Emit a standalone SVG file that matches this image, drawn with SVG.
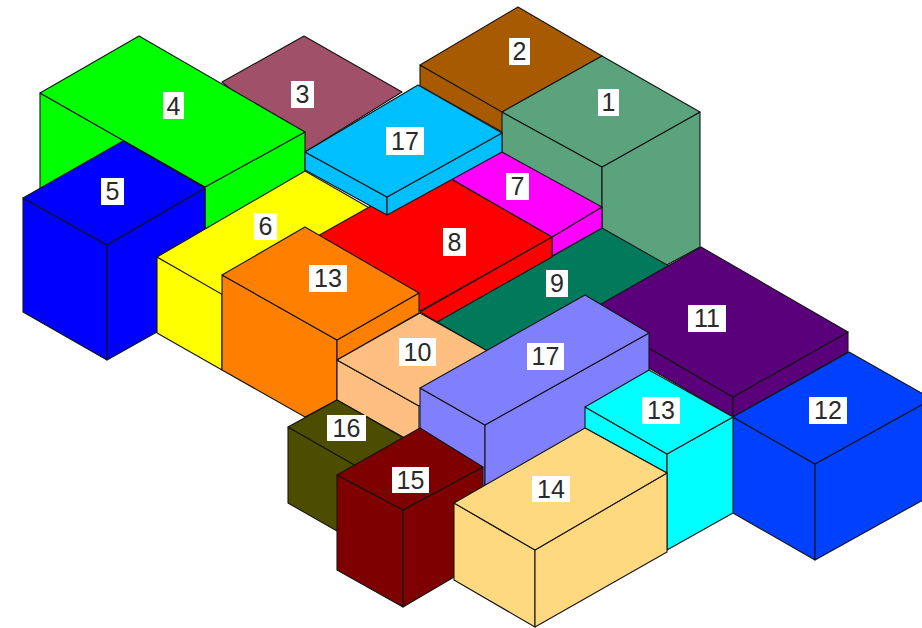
<svg xmlns="http://www.w3.org/2000/svg" width="922" height="628" viewBox="0 0 922 628">
<style>
polygon{stroke:#141414;stroke-width:1.1;stroke-linejoin:round}
rect{fill:#fff;stroke:none}
text{font-family:"Liberation Sans",Arial,sans-serif;font-size:25px;fill:#2a2a2a;text-anchor:middle}
</style>
<rect x="0" y="0" width="922" height="628"/>
<g id="n3" fill="#a05068"><polygon points="304,36 402,92 305,152 222,82"/></g>
<g id="n2" fill="#a85a00"><polygon points="420,65 504,112 504,133 420,86"/><polygon points="518,7 602,56 502,112 420,65"/></g>
<g id="n1" fill="#5aa37d"><polygon points="502,112 602,167 602,230 502,172"/><polygon points="602,167 700,112 700,247 602,300"/><polygon points="602,56 700,112 602,167 502,112"/></g>
<g id="n4" fill="#00ff00"><polygon points="40,93 205,187 205,290 40,190"/><polygon points="205,187 305,132 305,172 205,230"/><polygon points="139,36 305,132 205,187 40,93"/></g>
<g id="n5" fill="#0000ff"><polygon points="23,198 107,245 107,360 23,312"/><polygon points="107,245 205,188 205,305 107,360"/><polygon points="123,141 205,188 107,245 23,198"/></g>
<g id="n6" fill="#ffff00"><polygon points="157,257 222,293 222,370 157,333"/><polygon points="305,171 420,237 270,322 157,257"/></g>
<g id="n9" fill="#007a5a"><polygon points="602,228 720,295 555,390 437,322"/></g>
<g id="n7" fill="#ff00ff"><polygon points="552,237 602,207 602,228 552,256"/><polygon points="502,152 602,207 552,237 448,177"/></g>
<g id="n8" fill="#ff0000"><polygon points="552,237 552,257 437,322 420,312"/><polygon points="435,170 552,237 420,311 300,246"/></g>
<g id="n17a" fill="#00bfff"><polygon points="305,152 387,197 387,215 305,170"/><polygon points="387,197 502,133 502,152 387,215"/><polygon points="418,85 502,133 387,197 305,152"/></g>
<g id="n13a" fill="#ff8000"><polygon points="222,275 337,340 337,400 305,417 222,370"/><polygon points="337,340 419,293 419,313 337,360"/><polygon points="305,227 419,293 337,340 222,275"/></g>
<g id="n10" fill="#ffbf80"><polygon points="337,360 419,406 419,446 337,400"/><polygon points="420,313 500,358 419,406 337,360"/></g>
<g id="n16" fill="#4d4d00"><polygon points="288,427 372,475 372,551 288,503"/><polygon points="337,400 421,448 372,475 288,427"/></g>
<g id="n11" fill="#5a007a"><polygon points="587,312 733,397 733,417 587,332"/><polygon points="733,397 848,332 848,352 733,417"/><polygon points="701,247 848,332 733,397 587,312"/></g>
<g id="n12" fill="#0040ff"><polygon points="733,417 815,464 815,560 733,513"/><polygon points="815,464 932,399 932,495 815,560"/><polygon points="849,352 932,399 815,464 733,417"/></g>
<g id="n17b" fill="#8080ff"><polygon points="420,388 485,425 485,490 420,450"/><polygon points="485,425 649,333 649,425 485,517"/><polygon points="585,295 649,333 485,425 420,388"/></g>
<g id="n13b" fill="#00ffff"><polygon points="585,407 667,454 667,473 585,428"/><polygon points="667,454 733,417 733,513 667,550"/><polygon points="649,370 733,417 667,454 585,407"/></g>
<g id="n15" fill="#7f0000"><polygon points="337,475 403,510 403,607 337,570"/><polygon points="403,510 483,467 483,560 403,607"/><polygon points="420,428 483,467 403,510 337,475"/></g>
<g id="n14" fill="#ffd980"><polygon points="454,503 535,550 535,627 454,580"/><polygon points="535,550 667,473 667,552 535,627"/><polygon points="585,428 667,473 535,550 454,503"/></g>
<g id="labels">
<rect x="598" y="89" width="21" height="27"/><text x="608.5" y="111">1</text>
<rect x="509" y="38" width="21" height="27"/><text x="519.5" y="60">2</text>
<rect x="291" y="81" width="23" height="27"/><text x="302.5" y="103">3</text>
<rect x="163" y="92" width="21" height="27"/><text x="173.5" y="115">4</text>
<rect x="101" y="178" width="23" height="27"/><text x="112.5" y="200">5</text>
<rect x="254" y="213" width="23" height="27"/><text x="265.5" y="235">6</text>
<rect x="506" y="173" width="23" height="27"/><text x="517.5" y="195">7</text>
<rect x="443" y="228" width="23" height="28"/><text x="454.5" y="251">8</text>
<rect x="546" y="270" width="22" height="27"/><text x="557" y="292">9</text>
<rect x="399" y="338" width="37" height="28"/><text x="417.5" y="361">10</text>
<rect x="688" y="305" width="38" height="27"/><text x="707" y="327">11</text>
<rect x="809" y="397" width="38" height="27"/><text x="828" y="419">12</text>
<rect x="309" y="265" width="38" height="27"/><text x="328" y="287">13</text>
<rect x="642" y="397" width="38" height="27"/><text x="661" y="419">13</text>
<rect x="532" y="476" width="38" height="26"/><text x="551" y="498">14</text>
<rect x="392" y="467" width="37" height="26"/><text x="410.5" y="489">15</text>
<rect x="327" y="415" width="39" height="26"/><text x="346.5" y="437">16</text>
<rect x="386" y="127" width="38" height="28"/><text x="405" y="150">17</text>
<rect x="527" y="343" width="37" height="27"/><text x="545.5" y="365">17</text>
</g>
</svg>
